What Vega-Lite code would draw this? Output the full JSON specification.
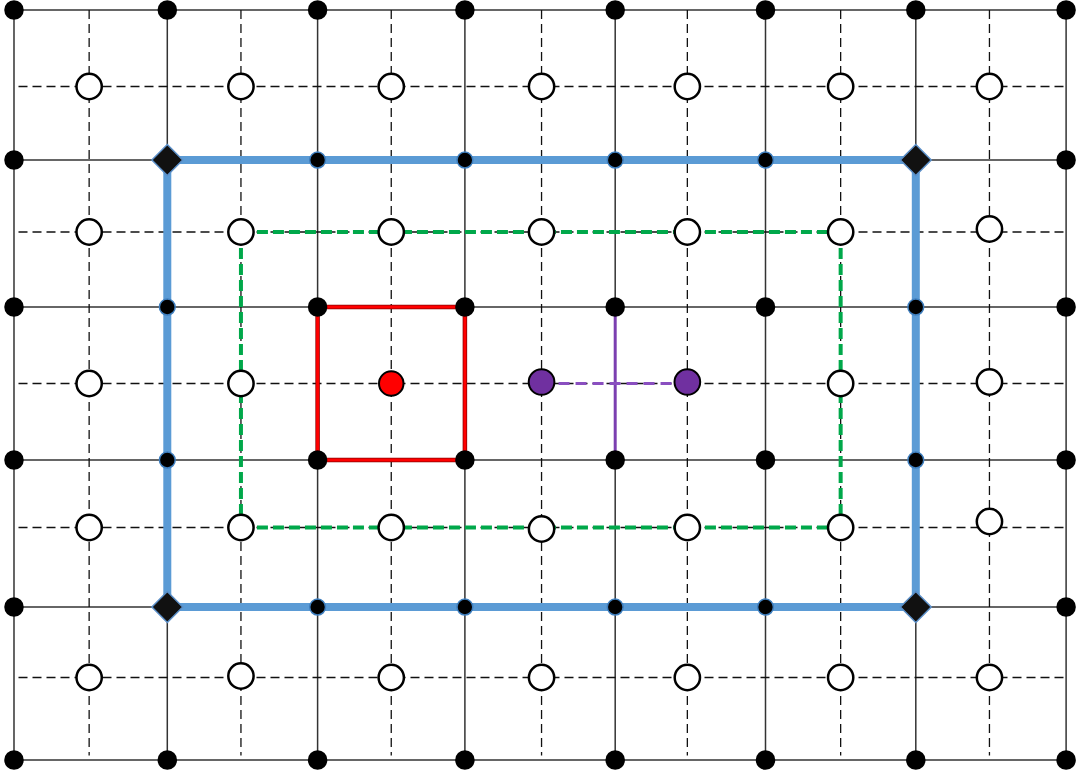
{
  "$schema": "https://vega.github.io/schema/vega-lite/v6.json",
  "width": 1077,
  "height": 774,
  "autosize": "none",
  "padding": 0,
  "background": "white",
  "config": {"view": {"stroke": null}},
  "datasets": {
    "solidV": [{"x":0,"y":0,"y2":5},{"x":1.02,"y":0,"y2":5},{"x":2.02,"y":0,"y2":5},{"x":3,"y":0,"y2":5},{"x":4,"y":0,"y2":5},{"x":5,"y":0,"y2":5},{"x":6,"y":0,"y2":5},{"x":7,"y":0,"y2":5}],
    "solidH": [{"y":0,"x":0,"x2":7},{"y":1,"x":0,"x2":7},{"y":1.98,"x":0,"x2":7},{"y":3,"x":0,"x2":7},{"y":3.98,"x":0,"x2":7},{"y":5,"x":0,"x2":7}],
    "dashV": [{"x":0.5,"y":0,"y2":4.97},{"x":1.51,"y":0,"y2":4.97},{"x":2.51,"y":0,"y2":4.97},{"x":3.51,"y":0,"y2":4.97},{"x":4.48,"y":0,"y2":4.97},{"x":5.5,"y":0,"y2":4.97},{"x":6.49,"y":0,"y2":4.97}],
    "dashH": [{"y":0.51,"x":0.03,"x2":7},{"y":1.48,"x":0.03,"x2":7},{"y":2.49,"x":0.03,"x2":7},{"y":3.45,"x":0.03,"x2":7},{"y":4.45,"x":0.03,"x2":7}],
    "green": [{"x":1.51,"y":1.48,"x2":5.5,"y2":1.48},{"x":5.5,"y":1.48,"x2":5.5,"y2":3.45},{"x":1.51,"y":3.45,"x2":5.5,"y2":3.45},{"x":1.51,"y":1.48,"x2":1.51,"y2":3.45}],
    "blue": [{"x":1.02,"y":1,"x2":6,"y2":1},{"x":6,"y":1,"x2":6,"y2":3.98},{"x":1.02,"y":3.98,"x2":6,"y2":3.98},{"x":1.02,"y":1,"x2":1.02,"y2":3.98}],
    "red": [{"x":2.02,"y":1.98,"x2":3,"y2":1.98},{"x":3,"y":1.98,"x2":3,"y2":3},{"x":2.02,"y":3,"x2":3,"y2":3},{"x":2.02,"y":1.98,"x2":2.02,"y2":3}],
    "purpleV": [{"x":4,"y":1.98,"x2":4,"y2":3}],
    "purpleH": [{"x":3.51,"y":2.49,"x2":4.48,"y2":2.49}],
    "vertices": [
      {"x":0,"y":0},{"x":1.02,"y":0},{"x":2.02,"y":0},{"x":3,"y":0},{"x":4,"y":0},{"x":5,"y":0},{"x":6,"y":0},{"x":7,"y":0},
      {"x":0,"y":1},{"x":7,"y":1},
      {"x":0,"y":1.98},{"x":2.02,"y":1.98},{"x":3,"y":1.98},{"x":4,"y":1.98},{"x":5,"y":1.98},{"x":7,"y":1.98},
      {"x":0,"y":3},{"x":2.02,"y":3},{"x":3,"y":3},{"x":4,"y":3},{"x":5,"y":3},{"x":7,"y":3},
      {"x":0,"y":3.98},{"x":7,"y":3.98},
      {"x":0,"y":5},{"x":1.02,"y":5},{"x":2.02,"y":5},{"x":3,"y":5},{"x":4,"y":5},{"x":5,"y":5},{"x":6,"y":5},{"x":7,"y":5}
    ],
    "blueVertices": [
      {"x":2.02,"y":1},{"x":3,"y":1},{"x":4,"y":1},{"x":5,"y":1},
      {"x":1.02,"y":1.98},{"x":6,"y":1.98},{"x":1.02,"y":3},{"x":6,"y":3},
      {"x":2.02,"y":3.98},{"x":3,"y":3.98},{"x":4,"y":3.98},{"x":5,"y":3.98}
    ],
    "diamonds": [{"x":1.02,"y":1},{"x":6,"y":1},{"x":1.02,"y":3.98},{"x":6,"y":3.98}],
    "centers": [
      {"x":0.5,"y":0.51},{"x":1.51,"y":0.51},{"x":2.51,"y":0.51},{"x":3.51,"y":0.51},{"x":4.48,"y":0.51},{"x":5.5,"y":0.51},{"x":6.49,"y":0.51},
      {"x":0.5,"y":1.48},{"x":1.51,"y":1.48},{"x":2.51,"y":1.48},{"x":3.51,"y":1.48},{"x":4.48,"y":1.48},{"x":5.5,"y":1.48},{"x":6.49,"y":1.46},
      {"x":0.5,"y":2.49},{"x":1.51,"y":2.49},{"x":5.5,"y":2.49},{"x":6.49,"y":2.48},
      {"x":0.5,"y":3.45},{"x":1.51,"y":3.45},{"x":2.51,"y":3.45},{"x":3.51,"y":3.46},{"x":4.48,"y":3.45},{"x":5.5,"y":3.45},{"x":6.49,"y":3.41},
      {"x":0.5,"y":4.45},{"x":1.51,"y":4.44},{"x":2.51,"y":4.45},{"x":3.51,"y":4.45},{"x":4.48,"y":4.45},{"x":5.5,"y":4.45},{"x":6.49,"y":4.45}
    ],
    "redC": [{"x":2.51,"y":2.49}],
    "purpleC": [{"x":3.51,"y":2.48},{"x":4.48,"y":2.48}]
  },
  "encoding": {
    "x": {"field": "x", "type": "quantitative", "scale": {"domain": [-0.0931, 7.0725], "nice": false, "zero": false}, "axis": null},
    "y": {"field": "y", "type": "quantitative", "scale": {"domain": [-0.0667, 5.0933], "nice": false, "zero": false, "reverse": true}, "axis": null}
  },
  "layer": [
    {"data": {"name": "solidV"}, "mark": {"type": "rule", "color": "#333333", "strokeWidth": 1.5}, "encoding": {"y2": {"field": "y2"}}},
    {"data": {"name": "solidH"}, "mark": {"type": "rule", "color": "#333333", "strokeWidth": 1.5}, "encoding": {"x2": {"field": "x2"}}},
    {"data": {"name": "dashV"}, "mark": {"type": "rule", "color": "#111111", "strokeWidth": 1.3, "strokeDash": [9, 5]}, "encoding": {"y2": {"field": "y2"}}},
    {"data": {"name": "dashH"}, "mark": {"type": "rule", "color": "#111111", "strokeWidth": 1.3, "strokeDash": [9, 5]}, "encoding": {"x2": {"field": "x2"}}},
    {"data": {"name": "green"}, "mark": {"type": "rule", "color": "#00A84A", "strokeWidth": 4, "strokeDash": [11, 5]}, "encoding": {"x2": {"field": "x2"}, "y2": {"field": "y2"}}},
    {"data": {"name": "blue"}, "mark": {"type": "rule", "color": "#5B9BD5", "strokeWidth": 8, "strokeCap": "square"}, "encoding": {"x2": {"field": "x2"}, "y2": {"field": "y2"}}},
    {"data": {"name": "red"}, "mark": {"type": "rule", "color": "#8a0000", "strokeWidth": 4.5, "strokeCap": "square"}, "encoding": {"x2": {"field": "x2"}, "y2": {"field": "y2"}}},
    {"data": {"name": "red"}, "mark": {"type": "rule", "color": "#FF0000", "strokeWidth": 3, "strokeCap": "square"}, "encoding": {"x2": {"field": "x2"}, "y2": {"field": "y2"}}},
    {"data": {"name": "purpleV"}, "mark": {"type": "rule", "color": "#7B3FB0", "strokeWidth": 3}, "encoding": {"x2": {"field": "x2"}, "y2": {"field": "y2"}}},
    {"data": {"name": "purpleH"}, "mark": {"type": "rule", "color": "#8A4FC0", "strokeWidth": 3, "strokeDash": [11, 6]}, "encoding": {"x2": {"field": "x2"}, "y2": {"field": "y2"}}},
    {"data": {"name": "vertices"}, "mark": {"type": "point", "shape": "circle", "filled": true, "color": "#000000", "size": 380, "opacity": 1}},
    {"data": {"name": "blueVertices"}, "mark": {"type": "point", "shape": "circle", "filled": true, "fill": "#000000", "stroke": "#3F7FBF", "strokeWidth": 1.5, "size": 250, "opacity": 1}},
    {"data": {"name": "diamonds"}, "mark": {"type": "point", "shape": "diamond", "filled": true, "fill": "#111111", "stroke": "#5B8FC8", "strokeWidth": 1.5, "size": 950, "opacity": 1}},
    {"data": {"name": "centers"}, "mark": {"type": "point", "shape": "circle", "filled": true, "fill": "#ffffff", "stroke": "#000000", "strokeWidth": 2.5, "size": 640, "opacity": 1}},
    {"data": {"name": "redC"}, "mark": {"type": "point", "shape": "circle", "filled": true, "fill": "#FF0000", "stroke": "#000000", "strokeWidth": 2, "size": 600, "opacity": 1}},
    {"data": {"name": "purpleC"}, "mark": {"type": "point", "shape": "circle", "filled": true, "fill": "#7030A0", "stroke": "#000000", "strokeWidth": 2, "size": 660, "opacity": 1}}
  ]
}
